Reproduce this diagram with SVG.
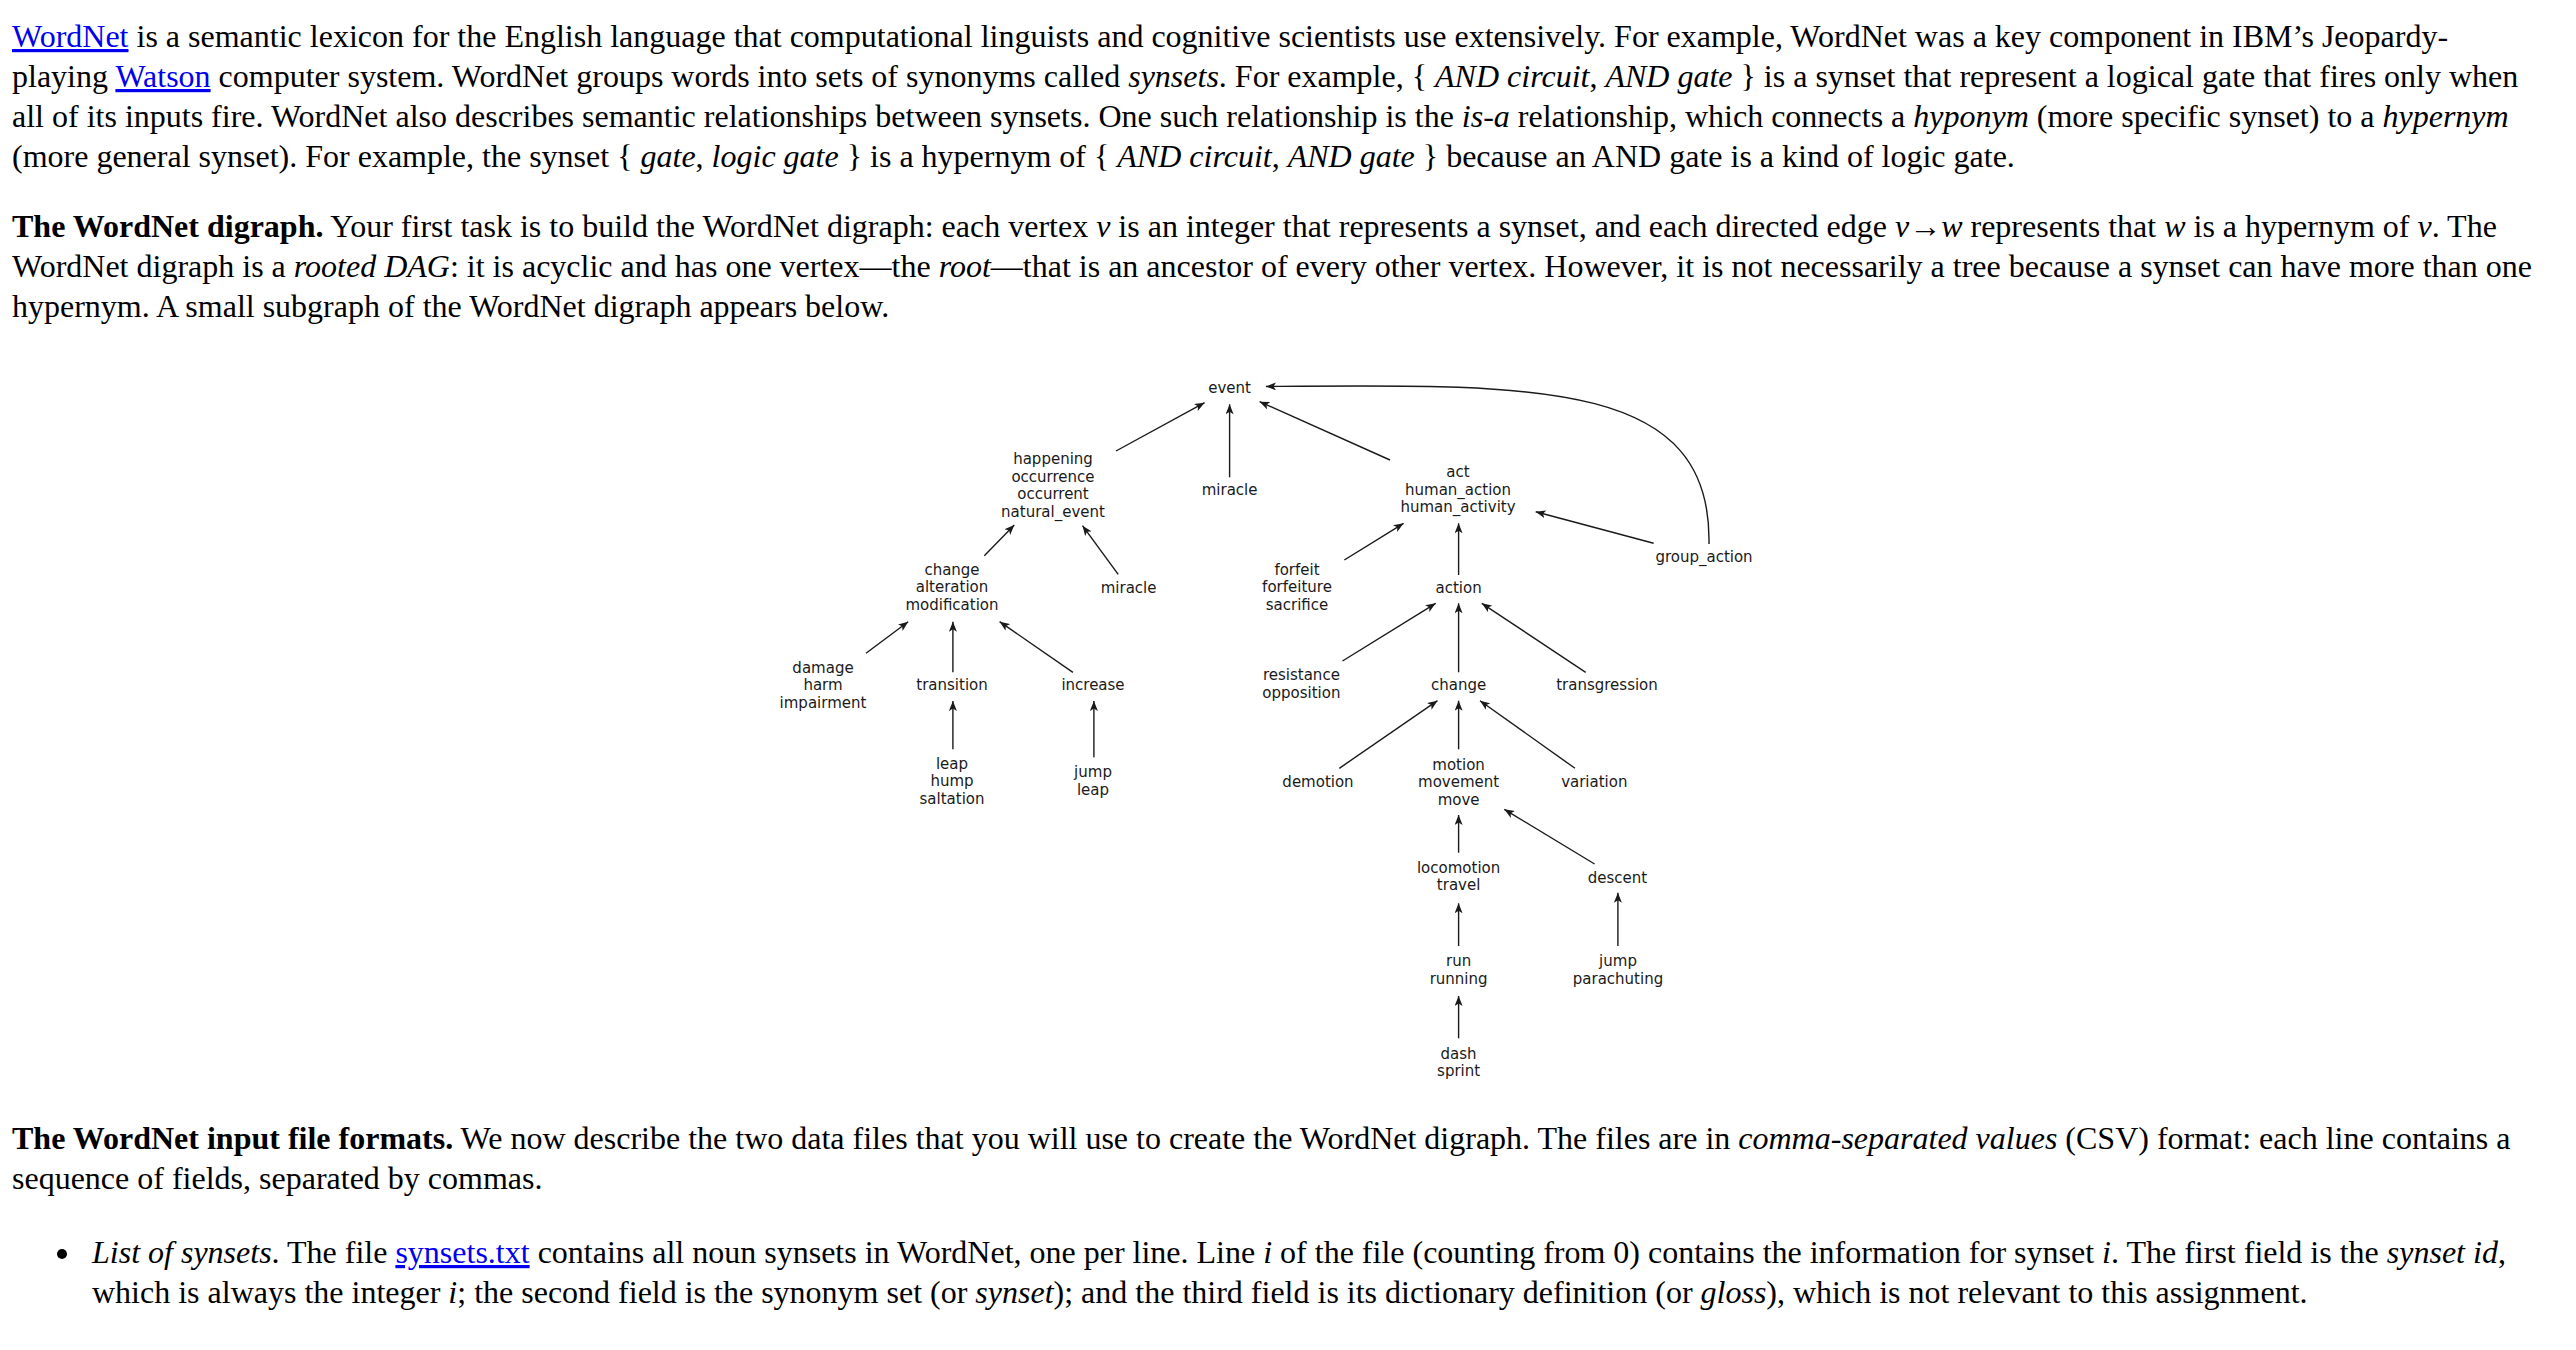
<svg xmlns="http://www.w3.org/2000/svg" width="2576" height="1350" viewBox="0 0 2576 1350">
<style>
.body{font-family:"Liberation Serif","Times New Roman",serif;font-size:32px;fill:#000}
.b{font-weight:bold}
.i{font-style:italic}
.link{fill:#0000ee;text-decoration:underline}
.n{font-family:"DejaVu Sans",sans-serif;font-size:15px;fill:#1a1a1a;text-anchor:middle}
.e{stroke:#1a1a1a;stroke-width:1.4;fill:none;marker-end:url(#ah)}
</style>
<defs>
<marker id="ah" viewBox="0 0 10 8" refX="10" refY="4" markerWidth="10" markerHeight="8" markerUnits="userSpaceOnUse" orient="auto">
<path d="M0,0 L10,4 L0,8 L2.5,4 z" fill="#1a1a1a"/>
</marker>
</defs>
<rect width="2576" height="1350" fill="#fff"/>

<g id="para1" class="body">
<text x="12" y="47"><tspan class="link">WordNet</tspan> is a semantic lexicon for the English language that computational linguists and cognitive scientists use extensively. For example, WordNet was a key component in IBM’s Jeopardy-</text>
<text x="12" y="87">playing <tspan class="link">Watson</tspan> computer system. WordNet groups words into sets of synonyms called <tspan class="i">synsets</tspan>. For example, { <tspan class="i">AND circuit</tspan>, <tspan class="i">AND gate</tspan> } is a synset that represent a logical gate that fires only when</text>
<text x="12" y="127">all of its inputs fire. WordNet also describes semantic relationships between synsets. One such relationship is the <tspan class="i">is-a</tspan> relationship, which connects a <tspan class="i">hyponym</tspan> (more specific synset) to a <tspan class="i">hypernym</tspan></text>
<text x="12" y="167">(more general synset). For example, the synset { <tspan class="i">gate</tspan>, <tspan class="i">logic gate</tspan> } is a hypernym of { <tspan class="i">AND circuit</tspan>, <tspan class="i">AND gate</tspan> } because an AND gate is a kind of logic gate.</text>
</g>

<g id="para2" class="body">
<text x="12" y="237"><tspan class="b">The WordNet digraph.</tspan> Your first task is to build the WordNet digraph: each vertex <tspan class="i">v</tspan> is an integer that represents a synset, and each directed edge <tspan class="i">v</tspan>→<tspan class="i">w</tspan> represents that <tspan class="i">w</tspan> is a hypernym of <tspan class="i">v</tspan>. The</text>
<text x="12" y="277">WordNet digraph is a <tspan class="i">rooted DAG</tspan>: it is acyclic and has one vertex—the <tspan class="i">root</tspan>—that is an ancestor of every other vertex. However, it is not necessarily a tree because a synset can have more than one</text>
<text x="12" y="317">hypernym. A small subgraph of the WordNet digraph appears below.</text>
</g>

<g id="edges">
<path class="e" d="M1116,451 L1204.6,402.7"/>
<path class="e" d="M1229.6,477.3 L1229.6,404.3"/>
<path class="e" d="M1390,460 L1259.6,401.7"/>
<path class="e" d="M1709,544 C1712,380 1540,384 1266,386.5"/>
<path class="e" d="M1653.6,543.3 L1535.7,511.7"/>
<path class="e" d="M984.3,555.7 L1014.3,525"/>
<path class="e" d="M1118.2,574.3 L1082.5,525.7"/>
<path class="e" d="M1344.3,560 L1403.6,523.3"/>
<path class="e" d="M1458.6,575 L1458.6,523.3"/>
<path class="e" d="M866,653.3 L908.2,621.7"/>
<path class="e" d="M952.9,672.3 L952.9,621.7"/>
<path class="e" d="M1072.9,672.3 L999.6,621.7"/>
<path class="e" d="M1342.5,661 L1435.7,603.3"/>
<path class="e" d="M1458.6,672.3 L1458.6,603.3"/>
<path class="e" d="M1585.7,672.3 L1481.8,603.3"/>
<path class="e" d="M952.9,749.3 L952.9,701"/>
<path class="e" d="M1093.9,757.3 L1093.9,701"/>
<path class="e" d="M1339.3,768.3 L1437.5,700.7"/>
<path class="e" d="M1458.6,749.3 L1458.6,700.7"/>
<path class="e" d="M1575,768.3 L1480,700.7"/>
<path class="e" d="M1458.6,852.7 L1458.6,815"/>
<path class="e" d="M1594.6,864 L1504.3,809.3"/>
<path class="e" d="M1458.6,946 L1458.6,903.3"/>
<path class="e" d="M1617.9,946 L1617.9,892.7"/>
<path class="e" d="M1458.6,1038.3 L1458.6,996"/>
</g>

<g id="n-event"><text class="n" x="1229.6" y="393">event</text></g>
<g id="n-happening"><text class="n" x="1053" y="464">happening<tspan x="1053" dy="17.5">occurrence</tspan><tspan x="1053" dy="17.5">occurrent</tspan><tspan x="1053" dy="17.5">natural_event</tspan></text></g>
<g id="n-miracle1"><text class="n" x="1229.6" y="495">miracle</text></g>
<g id="n-act"><text class="n" x="1458" y="477">act<tspan x="1458" dy="17.5">human_action</tspan><tspan x="1458" dy="17.5">human_activity</tspan></text></g>
<g id="n-group_action"><text class="n" x="1704" y="562">group_action</text></g>
<g id="n-change1"><text class="n" x="952" y="575">change<tspan x="952" dy="17.3">alteration</tspan><tspan x="952" dy="17.3">modification</tspan></text></g>
<g id="n-miracle2"><text class="n" x="1128.6" y="593">miracle</text></g>
<g id="n-forfeit"><text class="n" x="1297" y="575">forfeit<tspan x="1297" dy="17.3">forfeiture</tspan><tspan x="1297" dy="17.3">sacrifice</tspan></text></g>
<g id="n-action"><text class="n" x="1458.6" y="593">action</text></g>
<g id="n-damage"><text class="n" x="823" y="672.5">damage<tspan x="823" dy="17.5">harm</tspan><tspan x="823" dy="17.5">impairment</tspan></text></g>
<g id="n-transition"><text class="n" x="952" y="690">transition</text></g>
<g id="n-increase"><text class="n" x="1093" y="690">increase</text></g>
<g id="n-resistance"><text class="n" x="1301.4" y="680">resistance<tspan x="1301.4" dy="17.5">opposition</tspan></text></g>
<g id="n-change2"><text class="n" x="1458.6" y="690">change</text></g>
<g id="n-transgression"><text class="n" x="1607" y="690">transgression</text></g>
<g id="n-leap"><text class="n" x="952" y="768.5">leap<tspan x="952" dy="17.5">hump</tspan><tspan x="952" dy="17.5">saltation</tspan></text></g>
<g id="n-jumpleap"><text class="n" x="1093" y="777">jump<tspan x="1093" dy="17.5">leap</tspan></text></g>
<g id="n-demotion"><text class="n" x="1318" y="787">demotion</text></g>
<g id="n-motion"><text class="n" x="1458.6" y="769.5">motion<tspan x="1458.6" dy="17.5">movement</tspan><tspan x="1458.6" dy="17.5">move</tspan></text></g>
<g id="n-variation"><text class="n" x="1594.3" y="787">variation</text></g>
<g id="n-locomotion"><text class="n" x="1458.6" y="872.5">locomotion<tspan x="1458.6" dy="17.5">travel</tspan></text></g>
<g id="n-descent"><text class="n" x="1617.5" y="882.5">descent</text></g>
<g id="n-run"><text class="n" x="1458.6" y="966">run<tspan x="1458.6" dy="17.5">running</tspan></text></g>
<g id="n-parachuting"><text class="n" x="1618" y="966">jump<tspan x="1618" dy="17.5">parachuting</tspan></text></g>
<g id="n-dash"><text class="n" x="1458.6" y="1058.5">dash<tspan x="1458.6" dy="17.5">sprint</tspan></text></g>

<g id="para3" class="body">
<text x="12" y="1149"><tspan class="b">The WordNet input file formats.</tspan> We now describe the two data files that you will use to create the WordNet digraph. The files are in <tspan class="i">comma-separated values</tspan> (CSV) format: each line contains a</text>
<text x="12" y="1189">sequence of fields, separated by commas.</text>
</g>

<g id="bullet" class="body">
<circle cx="62" cy="1254" r="5" fill="#000"/>
<text x="92" y="1263"><tspan class="i">List of synsets</tspan>. The file <tspan class="link">synsets.txt</tspan> contains all noun synsets in WordNet, one per line. Line <tspan class="i">i</tspan> of the file (counting from 0) contains the information for synset <tspan class="i">i</tspan>. The first field is the <tspan class="i">synset id</tspan>,</text>
<text x="92" y="1303">which is always the integer <tspan class="i">i</tspan>; the second field is the synonym set (or <tspan class="i">synset</tspan>); and the third field is its dictionary definition (or <tspan class="i">gloss</tspan>), which is not relevant to this assignment.</text>
</g>
</svg>
